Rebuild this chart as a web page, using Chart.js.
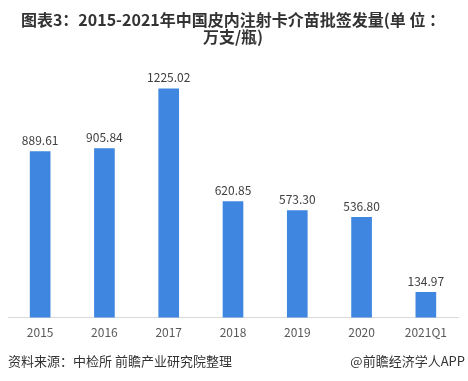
<!DOCTYPE html>
<html lang="zh">
<head>
<meta charset="UTF-8">
<title>皮内注射卡介苗批签发量</title>
<script src="https://cdn.jsdelivr.net/npm/chart.js"></script>
<style>
    body { margin: 0; background: #fff; }
    #wrap { position: relative; width: 468px; height: 381px; }
    .foot { position: absolute; top: 351px; font: 13px "Noto Sans CJK SC", sans-serif; color: #333; }
</style>
</head>
<body>
<div id="wrap">
    <canvas id="chart" width="468" height="381"></canvas>
    <div class="foot" style="left:8px">资料来源：中检所 前瞻产业研究院整理</div>
    <div class="foot" style="right:3px">@前瞻经济学人APP</div>
</div>
<script>
const years = ['2015', '2016', '2017', '2018', '2019', '2020', '2021Q1'];
const batches = [889.61, 905.84, 1225.02, 620.85, 573.30, 536.80, 134.97];

// value labels above each bar
const barLabels = {
    id: 'barLabels',
    afterDatasetsDraw(chart) {
        const ctx = chart.ctx;
        ctx.save();
        ctx.font = '12px "Noto Sans CJK SC", sans-serif';
        ctx.fillStyle = '#404040';
        ctx.textAlign = 'center';
        ctx.textBaseline = 'bottom';
        chart.getDatasetMeta(0).data.forEach((bar, i) => {
            ctx.fillText(batches[i].toFixed(2), bar.x, bar.y - 5);
        });
        ctx.restore();
    }
};

new Chart(document.getElementById('chart'), {
    type: 'bar',
    data: {
        labels: years,
        datasets: [{data: batches, backgroundColor: '#3f86e0', barThickness: 20}]
    },
    options: {
        responsive: false,
        animation: false,
        layout: {padding: {left: 8, right: 10, bottom: 41}},
        plugins: {
            legend: {display: false},
            tooltip: {enabled: false},
            title: {
                display: true,
                text: ['图表3：2015-2021年中国皮内注射卡介苗批签发量(单 位 ：', '万支/瓶)'],
                color: '#333',
                font: {size: 16, weight: 'bold', family: '"Noto Sans CJK SC", sans-serif', lineHeight: 1.1},
                padding: {top: 11, bottom: 10}
            }
        },
        scales: {
            x: {
                grid: {display: false},
                border: {color: '#d9d9d9'},
                ticks: {color: '#595959', font: {size: 12, family: '"Noto Sans CJK SC", sans-serif'}, padding: 0}
            },
            y: {display: false, min: 0, max: 1400}
        }
    },
    plugins: [barLabels]
});
</script>
</body>
</html>
